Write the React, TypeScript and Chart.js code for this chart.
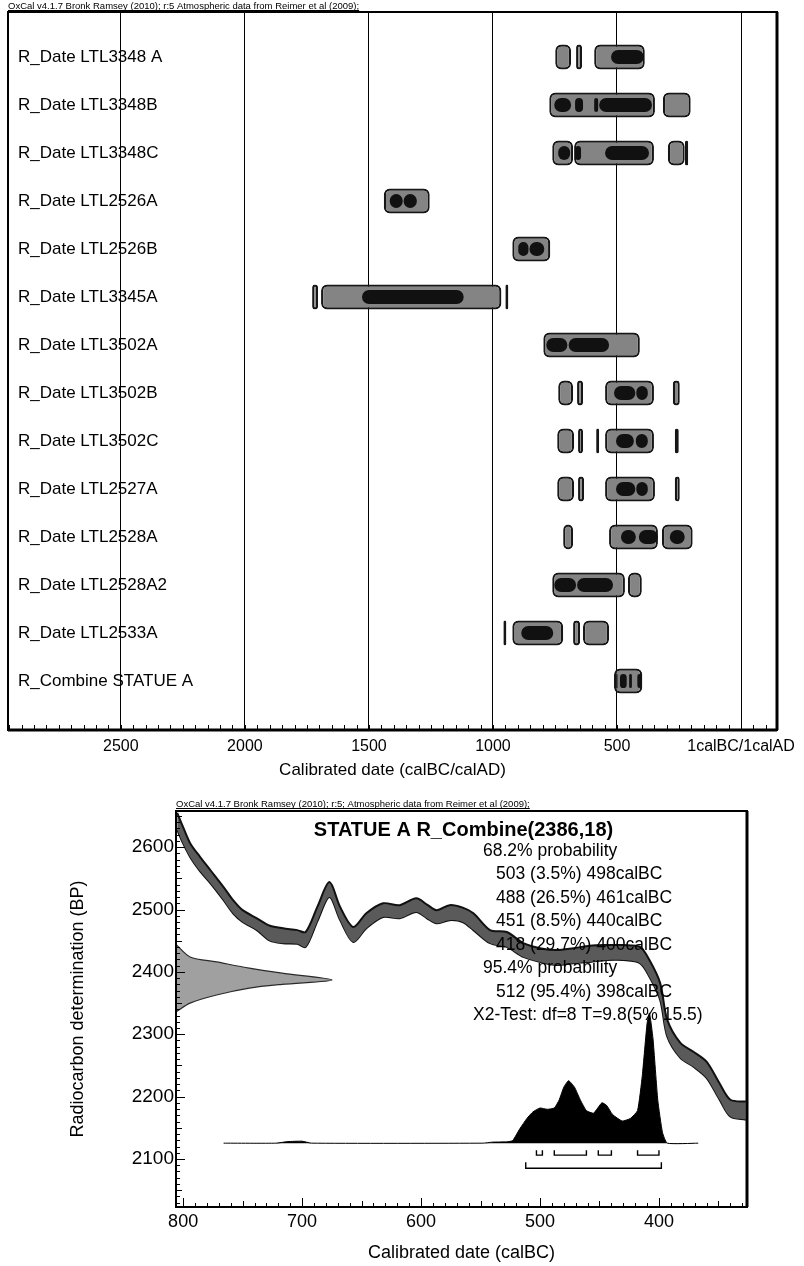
import React, { useEffect, useRef } from 'react';
import { Chart, registerables } from 'chart.js';

Chart.register(...registerables);

const FONT_FAMILY = 'Arial, "Liberation Sans", Helvetica, sans-serif';

// ---------------- Top chart data (calBC) ----------------
const rowLabels = [
  'R_Date LTL3348 A',
  'R_Date LTL3348B',
  'R_Date LTL3348C',
  'R_Date LTL2526A',
  'R_Date LTL2526B',
  'R_Date LTL3345A',
  'R_Date LTL3502A',
  'R_Date LTL3502B',
  'R_Date LTL3502C',
  'R_Date LTL2527A',
  'R_Date LTL2528A',
  'R_Date LTL2528A2',
  'R_Date LTL2533A',
  'R_Combine STATUE A',
];

const ranges95: number[][][] = [
  [[749, 685], [665, 641], [592, 388]],
  [[773, 347], [315, 203]],
  [[761, 677], [673, 351], [295, 227], [226, 213]],
  [[1440, 1255]],
  [[922, 769]],
  [[1729, 1705], [1693, 966], [950, 938]],
  [[797, 408]],
  [[737, 677], [661, 637], [548, 351], [275, 247]],
  [[741, 673], [657, 637], [584, 572], [548, 351], [267, 251]],
  [[741, 673], [657, 633], [548, 347], [267, 247]],
  [[717, 677], [532, 335], [319, 195]],
  [[761, 468], [456, 400]],
  [[958, 946], [922, 717], [677, 649], [637, 532]],
  [[512, 398]],
];

const ranges68: number[][][] = [
  [[524, 392]],
  [[753, 685], [669, 637], [592, 576], [572, 359]],
  [[737, 689], [669, 645], [548, 371]],
  [[1416, 1364], [1360, 1307]],
  [[898, 857], [853, 793]],
  [[1528, 1118]],
  [[785, 700], [695, 532]],
  [[512, 426], [422, 376]],
  [[504, 432], [424, 376]],
  [[504, 426], [422, 376]],
  [[484, 424], [412, 335], [287, 227]],
  [[753, 665], [661, 516]],
  [[886, 757]],
  [[503, 498], [488, 461], [451, 440], [418, 400]],
];

const topTickValues = [2500, 2000, 1500, 1000, 500, 0];
const topTickLabels = ['2500', '2000', '1500', '1000', '500', '1calBC/1calAD'];

// ---------------- Bottom chart data ----------------
const calYears = [805, 800, 794, 786, 777, 766, 758, 750, 738, 727, 716, 704, 697, 687, 677, 668, 657, 646, 632, 618, 604, 595, 587, 576, 565, 556, 542, 528, 514, 500, 486, 472, 458, 444, 430, 416, 408, 399, 393, 382, 371, 360, 349, 340, 327];
const curveUpper = [2655, 2632, 2606, 2585, 2563, 2536, 2515, 2499, 2486, 2474, 2470, 2467, 2464, 2505, 2544, 2504, 2472, 2494, 2510, 2507, 2518, 2508, 2499, 2507, 2503, 2494, 2467, 2464, 2446, 2438, 2435, 2438, 2442, 2443, 2443, 2440, 2419, 2382, 2323, 2286, 2272, 2256, 2221, 2195, 2192];
const curveLower = [2628, 2606, 2584, 2562, 2542, 2515, 2494, 2480, 2467, 2450, 2446, 2445, 2440, 2482, 2520, 2483, 2448, 2470, 2488, 2486, 2496, 2486, 2478, 2483, 2480, 2467, 2446, 2440, 2424, 2416, 2411, 2414, 2416, 2419, 2419, 2414, 2392, 2355, 2296, 2262, 2248, 2230, 2195, 2168, 2163];

const c14BP = [2444, 2424, 2416, 2406, 2398, 2387, 2380, 2374, 2363, 2350, 2336];
const c14Prob = [0, 0.09, 0.26, 0.47, 0.68, 1, 0.68, 0.47, 0.26, 0.09, 0];

const postYears = [766, 722, 712, 700, 692, 548, 540, 528, 523, 517, 511, 506, 500, 494, 488, 484, 480, 476, 471, 466, 461, 455, 448, 444, 439, 431, 424, 418, 414, 410, 408, 405, 401, 397, 393, 367];
const postProb = [0, 0, 0.012, 0.015, 0, 0, 0.008, 0.01, 0.02, 0.11, 0.19, 0.24, 0.27, 0.26, 0.27, 0.33, 0.43, 0.48, 0.43, 0.33, 0.25, 0.23, 0.31, 0.29, 0.22, 0.17, 0.19, 0.25, 0.52, 0.92, 1, 0.8, 0.33, 0.08, 0, 0];

const comb68 = [[503, 498], [488, 461], [451, 440], [418, 400]];
const comb95 = [[512, 398]];

const bottomXTicks = [800, 700, 600, 500, 400];
const bottomYTicks = [2100, 2200, 2300, 2400, 2500, 2600];

const combineTitle = 'STATUE A R_Combine(2386,18)';
const summaryLines = [
  '68.2% probability',
  '503 (3.5%) 498calBC',
  '488 (26.5%) 461calBC',
  '451 (8.5%) 440calBC',
  '418 (29.7%) 400calBC',
  '95.4% probability',
  '512 (95.4%) 398calBC',
  'X2-Test: df=8 T=9.8(5% 15.5)',
];

const headerTop = 'OxCal v4.1.7 Bronk Ramsey (2010); r:5 Atmospheric data from Reimer et al (2009);';
const headerBottom = 'OxCal v4.1.7 Bronk Ramsey (2010); r:5; Atmospheric data from Reimer et al (2009);';

function drawHeader(ctx: CanvasRenderingContext2D, text: string, x: number, y: number) {
  ctx.save();
  ctx.font = `9.5px ${FONT_FAMILY}`;
  ctx.fillStyle = '#000';
  ctx.textAlign = 'left';
  ctx.textBaseline = 'alphabetic';
  ctx.fillText(text, x, y);
  const w = ctx.measureText(text).width;
  ctx.strokeStyle = '#000';
  ctx.lineWidth = 1;
  ctx.beginPath();
  ctx.moveTo(x, y + 1.5);
  ctx.lineTo(x + w, y + 1.5);
  ctx.stroke();
  ctx.restore();
}

const topPlugin = {
  id: 'oxTop',
  afterDraw(chart: any) {
    const ctx = chart.ctx as CanvasRenderingContext2D;
    const a = chart.chartArea;
    const xs = chart.scales.x;
    ctx.save();
    ctx.strokeStyle = '#000';
    ctx.lineWidth = 2;
    ctx.strokeRect(a.left, a.top, a.right - a.left, a.bottom - a.top);
    ctx.lineWidth = 3;
    ctx.beginPath();
    ctx.moveTo(a.right, a.top);
    ctx.lineTo(a.right, a.bottom);
    ctx.moveTo(a.left, a.bottom);
    ctx.lineTo(a.right, a.bottom);
    ctx.stroke();
    ctx.lineWidth = 1;
    ctx.beginPath();
    const start = Math.ceil(xs.min / 50) * 50;
    for (let v = start; v <= xs.max; v += 50) {
      const px = Math.round(xs.getPixelForValue(v)) + 0.5;
      ctx.moveTo(px, a.bottom);
      ctx.lineTo(px, a.bottom - 5);
    }
    ctx.stroke();
    ctx.restore();
    drawHeader(ctx, headerTop, a.left, a.top - 3);
  },
};

const bottomPlugin = {
  id: 'oxBottom',
  afterDatasetsDraw(chart: any) {
    const ctx = chart.ctx as CanvasRenderingContext2D;
    const a = chart.chartArea;
    const cx = (a.left + a.right) / 2;
    ctx.save();
    ctx.fillStyle = '#000';
    ctx.textBaseline = 'middle';
    ctx.textAlign = 'center';
    ctx.font = `bold 20px ${FONT_FAMILY}`;
    ctx.fillText(combineTitle, cx + 2, a.top + 19);
    ctx.textAlign = 'left';
    ctx.font = `17.5px ${FONT_FAMILY}`;
    summaryLines.forEach((line, i) => {
      let x = 496;
      if (line.indexOf('probability') >= 0) x = 483;
      else if (line.indexOf('X2') === 0) x = 473;
      ctx.fillText(line, x, a.top + 40 + i * 23.5);
    });
    ctx.restore();
  },
  afterDraw(chart: any) {
    const ctx = chart.ctx as CanvasRenderingContext2D;
    const a = chart.chartArea;
    const xs = chart.scales.x;
    const ys = chart.scales.y;
    ctx.save();
    ctx.strokeStyle = '#000';
    ctx.lineWidth = 2;
    ctx.strokeRect(a.left, a.top, a.right - a.left, a.bottom - a.top);
    ctx.lineWidth = 3;
    ctx.beginPath();
    ctx.moveTo(a.right, a.top);
    ctx.lineTo(a.right, a.bottom);
    ctx.stroke();
    ctx.lineWidth = 1;
    ctx.beginPath();
    for (let v = Math.ceil(xs.min / 10) * 10; v <= xs.max; v += 10) {
      const px = Math.round(xs.getPixelForValue(v)) + 0.5;
      const len = v % 100 === 0 ? 9 : v % 50 === 0 ? 6 : 4;
      ctx.moveTo(px, a.bottom);
      ctx.lineTo(px, a.bottom - len);
    }
    for (let v = Math.ceil(ys.min / 10) * 10; v <= ys.max; v += 10) {
      const py = Math.round(ys.getPixelForValue(v)) + 0.5;
      const len = v % 100 === 0 ? 9 : v % 50 === 0 ? 6 : 4;
      ctx.moveTo(a.left, py);
      ctx.lineTo(a.left + len, py);
    }
    ctx.stroke();
    ctx.restore();
    drawHeader(ctx, headerBottom, a.left, a.top - 4);
  },
};

function bracketPoints(ranges: number[][], top: number, bottom: number) {
  const pts: { x: number; y: number | null }[] = [];
  ranges.forEach(([a, b]) => {
    pts.push({ x: a, y: top }, { x: a, y: bottom }, { x: b, y: bottom }, { x: b, y: top }, { x: b, y: null });
  });
  return pts;
}

export default function App() {
  const topRef = useRef<HTMLCanvasElement | null>(null);
  const botRef = useRef<HTMLCanvasElement | null>(null);

  useEffect(() => {
    if (!topRef.current || !botRef.current) return;

    const rows95 = ranges95.flatMap((rs, i) => rs.map((r) => ({ x: r, y: i })));
    const rows68 = ranges68.flatMap((rs, i) => rs.map((r) => ({ x: r, y: i })));

    const top = new Chart(topRef.current, {
      type: 'bar',
      data: {
        datasets: [
          {
            label: '68.2%',
            data: rows68 as any,
            backgroundColor: '#111111',
            borderColor: '#111111',
            borderWidth: 0,
            borderRadius: 7,
            borderSkipped: false,
            maxBarThickness: 14,
            grouped: false,
          } as any,
          {
            label: '95.4%',
            data: rows95 as any,
            backgroundColor: '#848484',
            borderColor: '#161616',
            borderWidth: 2.2,
            borderRadius: 6,
            borderSkipped: false,
            maxBarThickness: 25,
            grouped: false,
          } as any,
        ],
      },
      options: {
        indexAxis: 'y',
        animation: false,
        responsive: false,
        events: [],
        layout: { padding: { left: 8, top: 12, right: 27, bottom: 0 } },
        plugins: { legend: { display: false }, tooltip: { enabled: false } },
        scales: {
          x: {
            type: 'linear',
            reverse: true,
            min: -145,
            max: 2955,
            position: 'bottom',
            offset: false,
            grid: { display: true, color: '#000', lineWidth: 1, drawTicks: false, offset: false },
            border: { display: false },
            afterBuildTicks: (s: any) => {
              s.ticks = topTickValues.map((v) => ({ value: v }));
            },
            ticks: {
              callback: (v: any) => {
                const i = topTickValues.indexOf(Number(v));
                return i >= 0 ? topTickLabels[i] : '';
              },
              font: { family: FONT_FAMILY, size: 16 },
              color: '#000',
              padding: 7,
              maxRotation: 0,
              autoSkip: false,
            },
            title: {
              display: true,
              text: 'Calibrated date (calBC/calAD)',
              font: { family: FONT_FAMILY, size: 17 },
              color: '#000',
              padding: { top: 0, bottom: 9 },
            },
            afterFit: (s: any) => {
              s.height = 60;
              s.paddingLeft = 0;
              s.paddingRight = 0;
            },
          } as any,
          y: {
            type: 'linear',
            reverse: true,
            min: -0.9375,
            max: 14.02,
            position: 'left',
            offset: false,
            grid: { display: false, drawTicks: false, offset: false },
            border: { display: false },
            afterBuildTicks: (s: any) => {
              s.ticks = rowLabels.map((_, i) => ({ value: i }));
            },
            ticks: {
              mirror: true,
              padding: 10,
              callback: (v: any) => rowLabels[Number(v)] ?? '',
              font: { family: FONT_FAMILY, size: 17 },
              color: '#000',
              autoSkip: false,
            },
            afterFit: (s: any) => {
              s.width = 0;
              s.paddingTop = 0;
              s.paddingBottom = 0;
            },
          } as any,
        },
      },
      plugins: [topPlugin],
    });

    const bottom = new Chart(botRef.current, {
      type: 'line',
      data: {
        datasets: [
          {
            label: 'curve upper',
            data: calYears.map((x, i) => ({ x, y: curveUpper[i] })),
            borderColor: '#111',
            borderWidth: 2,
            backgroundColor: '#5a5a5a',
            fill: '+1',
            pointRadius: 0,
            tension: 0.3,
          },
          {
            label: 'curve lower',
            data: calYears.map((x, i) => ({ x, y: curveLower[i] })),
            borderColor: '#111',
            borderWidth: 2,
            fill: false,
            pointRadius: 0,
            tension: 0.3,
          },
          {
            label: 'R_Date distribution',
            indexAxis: 'y',
            xAxisID: 'xProb',
            yAxisID: 'y',
            data: c14BP.map((y, i) => ({ x: c14Prob[i], y })),
            borderColor: '#2a2a2a',
            borderWidth: 1.2,
            backgroundColor: '#a0a0a0',
            fill: 'origin',
            pointRadius: 0,
            tension: 0.3,
          } as any,
          {
            label: 'posterior',
            xAxisID: 'x',
            yAxisID: 'yPost',
            data: postYears.map((x, i) => ({ x, y: postProb[i] })),
            borderColor: '#000',
            borderWidth: 1,
            backgroundColor: '#000',
            fill: 'origin',
            pointRadius: 0,
            tension: 0.15,
          },
          {
            label: '68.2% ranges',
            xAxisID: 'x',
            yAxisID: 'yPost',
            data: bracketPoints(comb68, -0.054, -0.092) as any,
            borderColor: '#000',
            borderWidth: 1.4,
            fill: false,
            pointRadius: 0,
            spanGaps: false,
            tension: 0,
          },
          {
            label: '95.4% ranges',
            xAxisID: 'x',
            yAxisID: 'yPost',
            data: bracketPoints(comb95, -0.146, -0.192) as any,
            borderColor: '#000',
            borderWidth: 1.4,
            fill: false,
            pointRadius: 0,
            spanGaps: false,
            tension: 0,
          },
        ],
      },
      options: {
        animation: false,
        responsive: false,
        events: [],
        layout: { padding: { left: 60, top: 21, right: 57, bottom: 0 } },
        plugins: { legend: { display: false }, tooltip: { enabled: false } },
        scales: {
          x: {
            type: 'linear',
            reverse: true,
            min: 326,
            max: 806,
            position: 'bottom',
            grid: { display: false, drawTicks: false },
            border: { display: false },
            afterBuildTicks: (s: any) => {
              s.ticks = bottomXTicks.map((v) => ({ value: v }));
            },
            ticks: {
              callback: (v: any) => String(v),
              font: { family: FONT_FAMILY, size: 18 },
              color: '#000',
              padding: 4,
              maxRotation: 0,
              autoSkip: false,
            },
            title: {
              display: true,
              text: 'Calibrated date (calBC)',
              font: { family: FONT_FAMILY, size: 18 },
              color: '#000',
              padding: { top: 0, bottom: 2 },
            },
            afterFit: (s: any) => {
              s.height = 59;
              s.paddingLeft = 0;
              s.paddingRight = 0;
            },
          } as any,
          y: {
            type: 'linear',
            min: 2023,
            max: 2658,
            position: 'left',
            grid: { display: false, drawTicks: false },
            border: { display: false },
            afterBuildTicks: (s: any) => {
              s.ticks = bottomYTicks.map((v) => ({ value: v }));
            },
            ticks: {
              callback: (v: any) => String(v),
              font: { family: FONT_FAMILY, size: 19 },
              color: '#000',
              padding: 2,
              autoSkip: false,
            },
            title: {
              display: true,
              text: 'Radiocarbon determination (BP)',
              font: { family: FONT_FAMILY, size: 18 },
              color: '#000',
              padding: { top: 7, bottom: 0 },
            },
            afterFit: (s: any) => {
              s.width = 116;
              s.paddingTop = 0;
              s.paddingBottom = 0;
            },
          } as any,
          xProb: { type: 'linear', display: false, min: 0, max: 3.66, position: 'bottom' } as any,
          yPost: { type: 'linear', display: false, min: -0.49, max: 2.55, position: 'left' } as any,
        },
      },
      plugins: [bottomPlugin],
    });

    return () => {
      top.destroy();
      bottom.destroy();
    };
  }, []);

  return (
    <div style={{ position: 'absolute', left: 0, top: 0, width: 804, height: 1266, background: '#fff' }}>
      <canvas
        ref={topRef}
        width={804}
        height={790}
        style={{ position: 'absolute', left: 0, top: 0, width: 804, height: 790 }}
      />
      <canvas
        ref={botRef}
        width={804}
        height={476}
        style={{ position: 'absolute', left: 0, top: 790, width: 804, height: 476 }}
      />
    </div>
  );
}
